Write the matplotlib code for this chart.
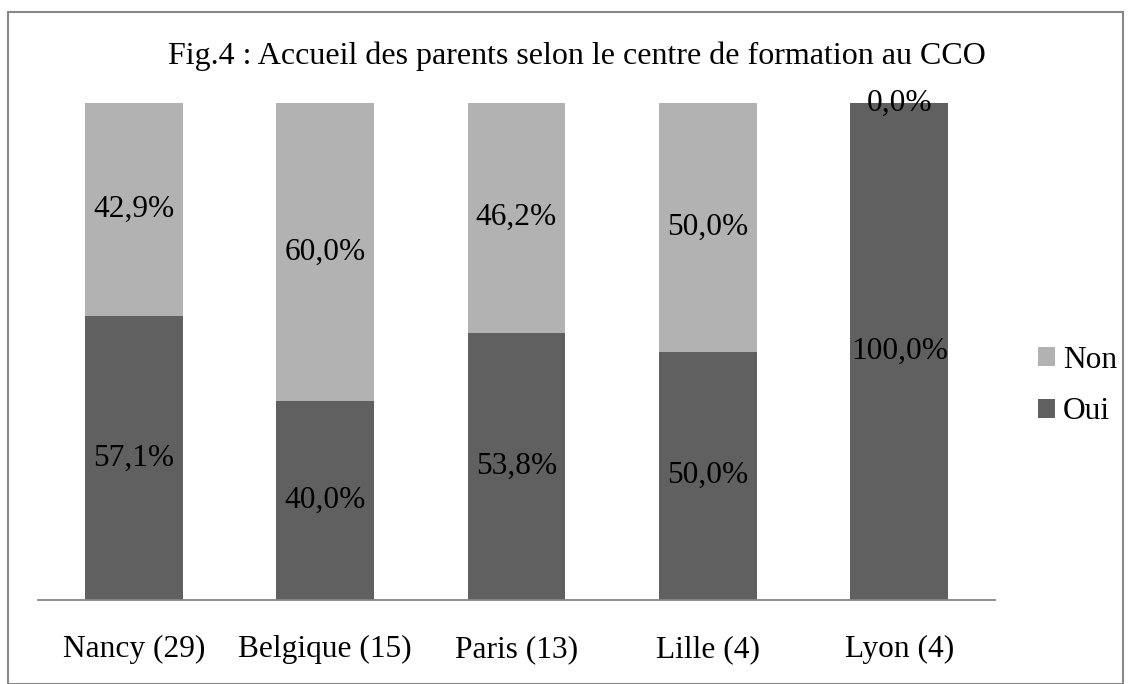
import matplotlib.pyplot as plt
from matplotlib.patches import Rectangle

centres = ['Nancy (29)', 'Belgique (15)', 'Paris (13)', 'Lille (4)', 'Lyon (4)']
oui = [57.1, 40.0, 53.8, 50.0, 100.0]
non = [42.9, 60.0, 46.2, 50.0, 0.0]

plt.rcParams['font.family'] = ['Liberation Serif', 'DejaVu Serif']

fig = plt.figure(figsize=(11.31, 6.84), dpi=100)
ax = fig.add_axes([38 / 1131, 84 / 684, 957 / 1131, 497 / 684])

col_oui = '#606060'
col_non = '#b2b2b2'
fs = 22.6
x = range(len(centres))
b_oui = ax.bar(x, oui, width=0.512, color=col_oui, label='Oui')
b_non = ax.bar(x, non, width=0.512, bottom=oui, color=col_non, label='Non')

for i in x:
    ax.text(i, oui[i] / 2, f'{oui[i]:.1f}%'.replace('.', ','),
            ha='center', va='center', fontsize=fs)
    ax.text(i, oui[i] + non[i] / 2, f'{non[i]:.1f}%'.replace('.', ','),
            ha='center', va='center', fontsize=fs)

ax.set_xlim(-0.5, len(centres) - 0.5)
ax.set_ylim(0, 100)
ax.set_xticks(list(x))
ax.set_xticklabels(centres, fontsize=fs)
ax.tick_params(axis='x', length=0, pad=25)
ax.set_yticks([])
for s in ['top', 'right', 'left']:
    ax.spines[s].set_visible(False)
ax.spines['bottom'].set_color('#868686')
ax.spines['bottom'].set_linewidth(1.3)

fig.text(577 / 1131, 1 - 56 / 684, 'Fig.4 : Accueil des parents selon le centre de formation au CCO',
         ha='center', va='center', fontsize=23)

fig.legend(handles=[b_non, b_oui], labels=['Non', 'Oui'],
           loc='center left', bbox_to_anchor=(1038 / 1131, 1 - 386 / 684),
           frameon=False, fontsize=fs, handlelength=0.55, handleheight=0.55,
           handletextpad=0.25, labelspacing=0.72, borderpad=0, borderaxespad=0)

fig.patches.append(Rectangle((8 / 1131, 0), 1115 / 1131, 672 / 684,
                             transform=fig.transFigure, fill=False,
                             edgecolor='#888888', linewidth=1.5))

fig.savefig('out.png', dpi=100)
